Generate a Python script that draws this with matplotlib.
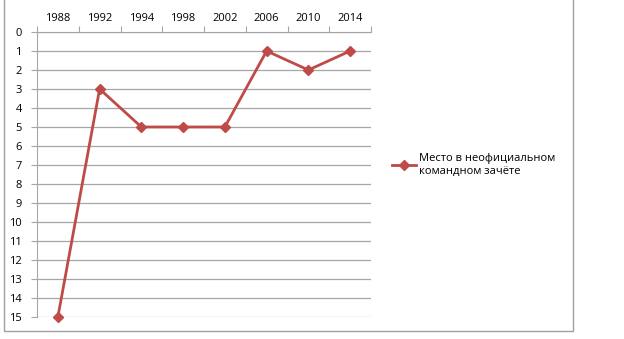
import matplotlib.pyplot as plt
from matplotlib.patches import Rectangle

# data
years = ['1988', '1992', '1994', '1998', '2002', '2006', '2010', '2014']
place = [15, 3, 5, 5, 5, 1, 2, 1]
series_name = 'Место в неофициальном\nкомандном зачёте'

plt.rcParams['font.family'] = ['Open Sans', 'DejaVu Sans']

W, H = 624, 339
fig = plt.figure(figsize=(W / 100, H / 100), dpi=100)

# outer chart border (Excel style)
fig.patches.append(Rectangle((4 / W, 1 - 331 / H), 569 / W, 331 / H + 0.05,
                             transform=fig.transFigure, fill=False,
                             edgecolor='#a0a0a0', linewidth=1.0))

ax = fig.add_axes([37 / W, 1 - 317 / H, (371 - 37) / W, (317 - 32) / H])

x = list(range(len(years)))
line, = ax.plot(x, place, color='#be4b48', linewidth=2, marker='D',
                markersize=5, markerfacecolor='#be4b48',
                markeredgecolor='#be4b48', clip_on=False, zorder=3)

ax.set_xlim(-0.5, len(years) - 0.5)
ax.set_ylim(15, 0)
ax.set_yticks(range(0, 16))
ax.yaxis.grid(True, color='#a6a6a6', linewidth=0.9)
ax.set_axisbelow(True)

# category labels on top, tick marks at category boundaries
ax.xaxis.tick_top()
ax.set_xticks([i + 0.5 for i in range(-1, len(years))])
ax.set_xticklabels([])
ax.set_xticks(x, minor=True)
ax.set_xticklabels(years, minor=True, fontsize=8)
ax.tick_params(axis='x', which='major', direction='out', length=4,
               color='#a6a6a6', top=True, bottom=False)
ax.tick_params(axis='x', which='minor', length=0, pad=6, top=True, bottom=False)
ax.tick_params(axis='y', direction='out', length=4, color='#a6a6a6',
               labelsize=8, pad=7)

for s in ['right', 'bottom']:
    ax.spines[s].set_visible(False)
ax.spines['left'].set_color('#a6a6a6')
ax.spines['top'].set_color('#a6a6a6')

fig.legend([line], [series_name], loc='center left',
           bbox_to_anchor=(392 / W, 1 - 165 / H), frameon=False,
           fontsize=8, handlelength=2.2, handletextpad=0.2,
           borderaxespad=0, borderpad=0)

fig.savefig('out.png', dpi=100, facecolor='white')
